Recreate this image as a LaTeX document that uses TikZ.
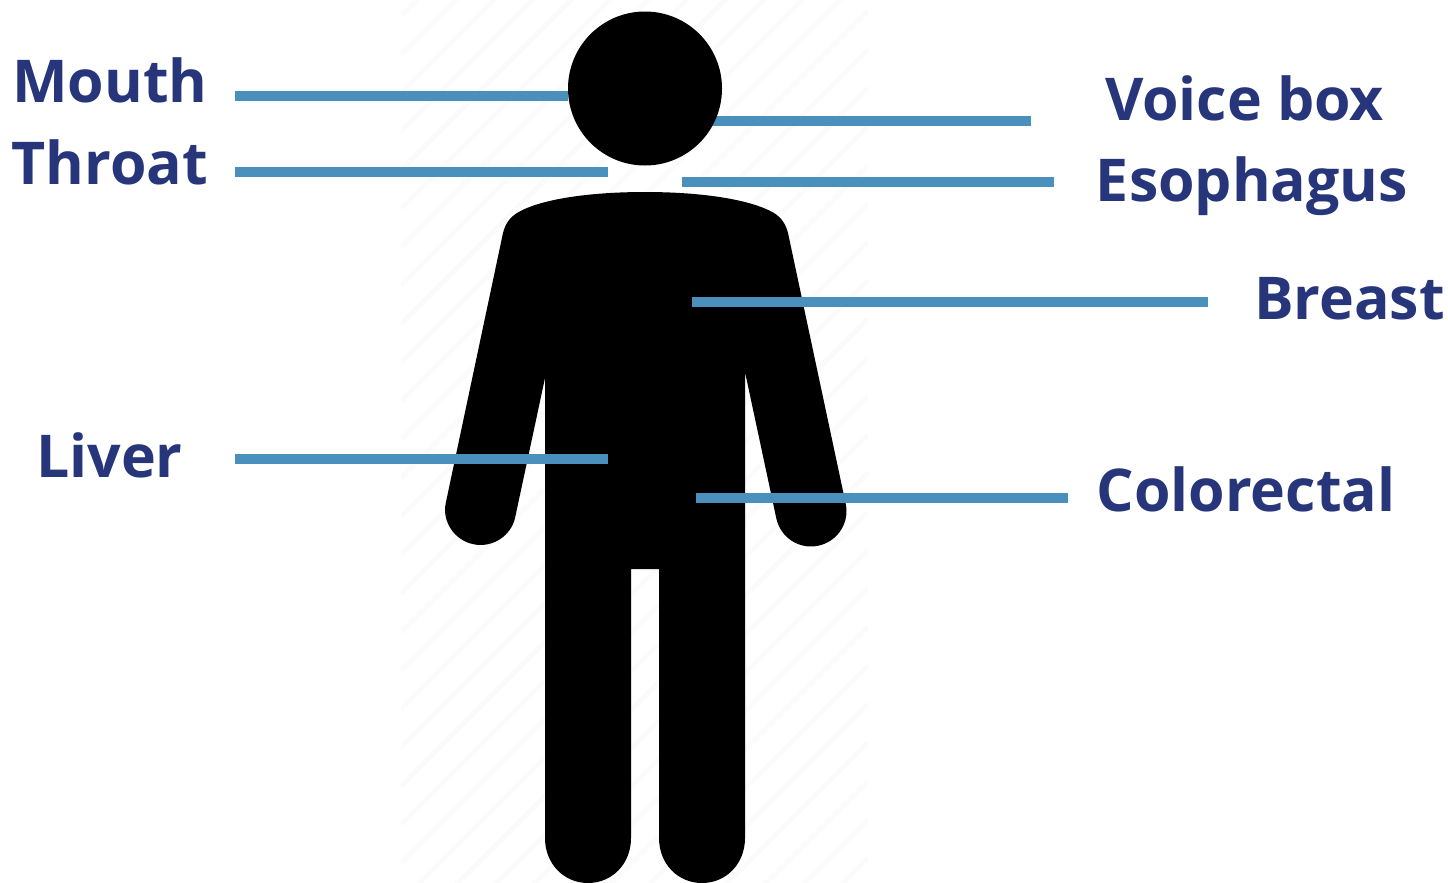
\documentclass[tikz,border=0pt]{standalone}
\usepackage{fontspec}
\setmainfont{Open Sans}[BoldFont={* Bold}]
\definecolor{lab}{HTML}{27357A}
\definecolor{ln}{HTML}{4A90BC}
\definecolor{stripe}{HTML}{FBFBFB}
\tikzset{lbl/.style={font=\bfseries\fontsize{44.25}{44.25}\selectfont,text=lab,inner sep=0pt,anchor=base},
 lead/.style={draw=ln,line width=7.5pt}}
\begin{document}
\begin{tikzpicture}[x=0.75pt,y=-0.75pt]
\useasboundingbox (0,0) rectangle (1448,882);
\fill[white] (0,0) rectangle (1448,882);
\begin{scope}
\clip (401,0) rectangle (868,882);
\foreach \i in {0,...,36} \draw[stripe,line width=3.5pt] (401,16+\i*38.5) -- (868,16+\i*38.5-467);
\end{scope}
\coordinate (v1) at (690,121); \coordinate (v2) at (1031,121);
\draw[lead] (v1)--(v2);
\fill[black] (645,88.5) circle [radius=77];
\fill[black] (645,192) .. controls (700,192) and (750,199) .. (774,213) .. controls (782,218) and (786,225) .. (788,233)
 -- (845.7,503.7) .. controls (849.8,522.9) and (837.5,541.6) .. (818.3,545.7) .. controls (799.1,549.8) and (780.4,537.5) .. (776.3,518.3)
 -- (745,372) -- (745,838) .. controls (745,864) and (726,883) .. (702,883) .. controls (678,883) and (659,864) .. (659,838)
 -- (659,569) -- (631,569) -- (631,838) .. controls (631,864) and (612,883) .. (588,883) .. controls (564,883) and (545,864) .. (545,838)
 -- (545,378) -- (515.2,517.2) .. controls (511.2,536.1) and (492.2,548.2) .. (473.3,544.2) .. controls (454.4,540.2) and (441.8,521.7) .. (445.8,502.8)
 -- (503,233) .. controls (505,225) and (509,218) .. (517,213) .. controls (540,199) and (590,192) .. (645,192) -- cycle;
\coordinate (m1) at (235,96); \coordinate (m2) at (568,96);
\coordinate (t1) at (235,172); \coordinate (t2) at (608,172);
\coordinate (l1) at (235,459); \coordinate (l2) at (608,459);
\coordinate (e1) at (682,182); \coordinate (e2) at (1054,182);
\coordinate (b1) at (692,302); \coordinate (b2) at (1208,302);
\coordinate (c1) at (696,498); \coordinate (c2) at (1068,498);
\draw[lead] (m1)--(m2); \draw[lead] (t1)--(t2); \draw[lead] (l1)--(l2);
\draw[lead] (e1)--(e2); \draw[lead] (b1)--(b2); \draw[lead] (c1)--(c2);
\node[lbl] (mouth) at (110,102) {Mouth};
\node[lbl] (throat) at (110,184) {Throat};
\node[lbl] (liver) at (109.5,477) {Liver};
\node[lbl] (voice) at (1244.5,120) {Voice box};
\node[lbl] (eso) at (1252,201) {Esophagus};
\node[lbl] (breast) at (1349.5,319) {Breast};
\node[lbl] (colo) at (1246,511) {Colorectal};
\end{tikzpicture}
\end{document}
